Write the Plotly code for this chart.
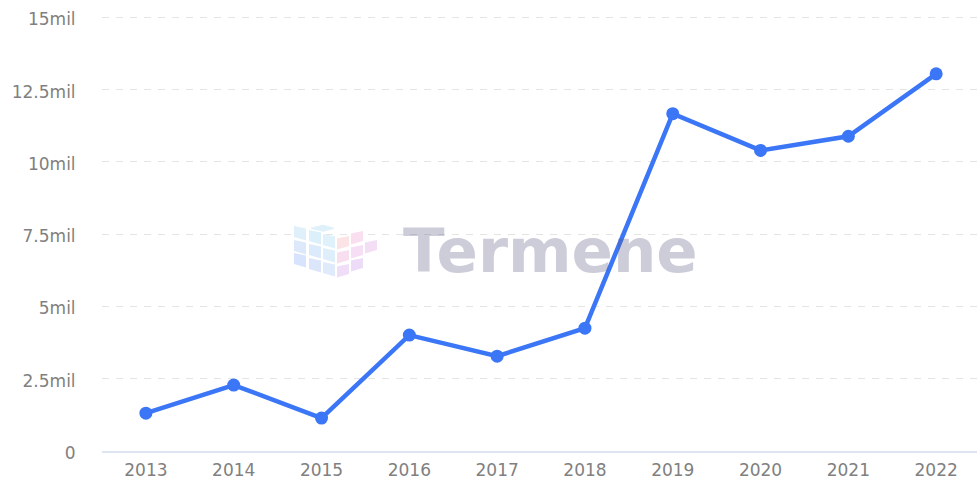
import plotly.graph_objects as go

years = ["2013", "2014", "2015", "2016", "2017", "2018", "2019", "2020", "2021", "2022"]
values = [1.31, 2.28, 1.14, 4.01, 3.28, 4.25, 11.67, 10.40, 10.89, 13.05]
tick_values = [0, 2.5, 5, 7.5, 10, 12.5, 15]
tick_labels = ["0", "2.5mil", "5mil", "7.5mil", "10mil", "12.5mil", "15mil"]

W, H = 977, 480
L, R, T, B = 102, 0, 15.5, 29


def px(x):
    return (x - L) / (W - L - R)


def py(y):
    return 1 - (y - T) / (H - T - B)


fig = go.Figure(
    go.Scatter(
        x=list(range(len(years))),
        y=values,
        mode="lines+markers",
        line=dict(color="#3b76f6", width=4.5),
        marker=dict(color="#3b76f6", size=13),
        cliponaxis=False,
        hoverinfo="skip",
    )
)

# Watermark cube, drawn as small rounded tiles in pixel space
left_faces = [
    (294, 226, "#dff0fb"), (309, 230, "#dcf0fb"), (323, 234, "#dff1fb"),
    (294, 240, "#dde9fb"), (309, 244, "#dcebfb"), (323, 248, "#dfeefb"),
    (294, 253, "#d8e4fb"), (309, 258, "#dbe6fb"), (323, 262, "#dfeafa"),
]
right_faces = [
    (337, 236, "#fbe3e6"), (351, 231, "#fadff0"), (365, 240, "#f3def6"),
    (337, 250, "#f8dff0"), (351, 245, "#f6def4"),
    (337, 264, "#f0def8"), (351, 258, "#ecdcf8"),
]
shapes = []
for x0, y0, c in left_faces:
    path = (f"M{px(x0 + 1)},{py(y0 + 1)} L{px(x0 + 11)},{py(y0 + 3)} "
            f"L{px(x0 + 11)},{py(y0 + 13)} L{px(x0 + 1)},{py(y0 + 10)} Z")
    shapes.append(dict(type="path", path=path, xref="paper", yref="paper",
                       fillcolor=c, line=dict(color=c, width=2), layer="above"))
for x0, y0, c in right_faces:
    path = (f"M{px(x0 + 1)},{py(y0 + 3)} L{px(x0 + 11)},{py(y0 + 1)} "
            f"L{px(x0 + 11)},{py(y0 + 9)} L{px(x0 + 1)},{py(y0 + 12)} Z")
    shapes.append(dict(type="path", path=path, xref="paper", yref="paper",
                       fillcolor=c, line=dict(color=c, width=2), layer="above"))
top = (f"M{px(311)},{py(228)} L{px(323)},{py(225)} L{px(334)},{py(228)} L{px(323)},{py(231)} Z")
shapes.append(dict(type="path", path=top, xref="paper", yref="paper",
                   fillcolor="#def1fb", line=dict(color="#def1fb", width=1), layer="above"))

fig.update_layout(
    width=W,
    height=H,
    margin=dict(l=L, r=R, t=T, b=B, pad=0, autoexpand=False),
    paper_bgcolor="white",
    plot_bgcolor="white",
    showlegend=False,
    shapes=shapes,
    font=dict(family="DejaVu Sans", size=17, color="#808080"),
    xaxis=dict(
        range=[-0.5, 9.465],
        tickmode="array",
        tickvals=list(range(len(years))),
        ticktext=years,
        showgrid=False,
        zeroline=False,
        showline=True,
        linecolor="#dde4f2",
        linewidth=1.5,
        ticks="outside",
        ticklen=3,
        tickcolor="rgba(0,0,0,0)",
        automargin=False,
    ),
    yaxis=dict(
        range=[0, 15.05],
        tickmode="array",
        tickvals=tick_values,
        ticktext=tick_labels,
        ticklabelshift=2,
        showgrid=True,
        griddash="7px,7px",
        gridcolor="#e4e4e4",
        gridwidth=1,
        zeroline=False,
        showline=False,
        ticks="outside",
        ticklen=22,
        tickcolor="rgba(0,0,0,0)",
        automargin=False,
    ),
    annotations=[
        dict(
            text="<b>Termene</b>",
            xref="paper",
            yref="paper",
            x=px(401),
            y=py(250),
            xanchor="left",
            yanchor="middle",
            showarrow=False,
            font=dict(family="DejaVu Sans", size=61, color="rgba(90,85,130,0.3)"),
        )
    ],
)

fig.write_html(
    "out.html",
    config={"displayModeBar": False, "staticPlot": True},
    post_script="document.body.style.margin='0';document.body.style.overflow='hidden';",
)
